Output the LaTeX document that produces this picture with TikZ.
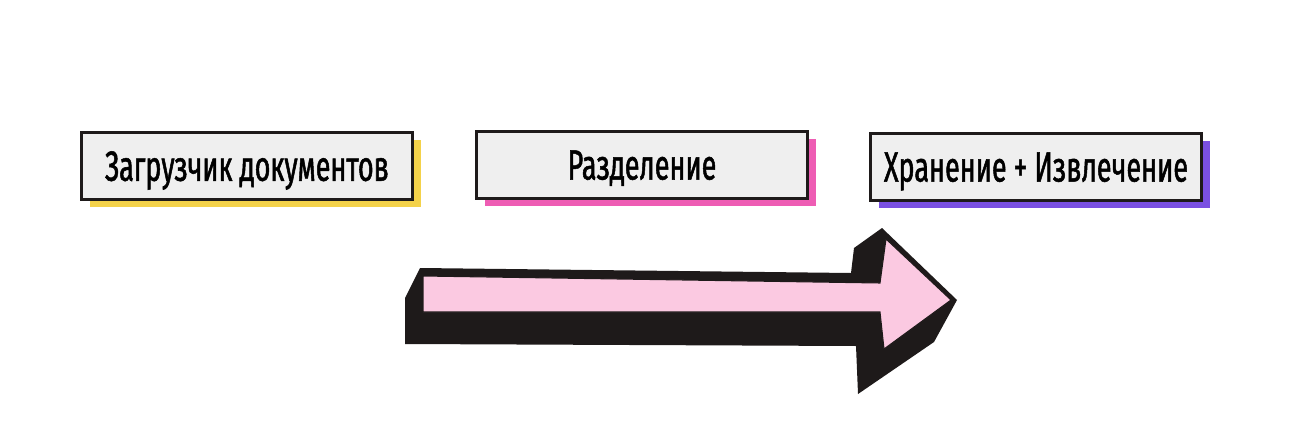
\documentclass[tikz,border=0pt]{standalone}
\usepackage{fontspec}
\setmainfont[FakeStretch=0.64,FakeBold=1.2]{Fira Sans}
\usetikzlibrary{shadows,positioning}
\definecolor{boxgray}{HTML}{EFEFEF}
\definecolor{loadcol}{HTML}{F4D24A}
\definecolor{splitcol}{HTML}{EE5DB4}
\definecolor{storecol}{HTML}{7A50E2}
\definecolor{arrpink}{HTML}{FBC9E1}
\definecolor{arrblack}{HTML}{1E1A1A}
\newcommand{\boxw}{6.62cm}
\tikzset{
    stagesty/.style={draw=arrblack,fill=boxgray,rectangle,line width=1.9pt,
                     minimum width=\boxw,minimum height=1.34cm,font=\fontsize{24}{26}\selectfont,
                     anchor=center,text depth=0pt},
    shsty/.style={general shadow={fill=#1,shadow xshift=0.17cm,shadow yshift=-0.15cm}},
}

\begin{document}
\begin{tikzpicture}[x=0.02cm,y=-0.02cm]
  \useasboundingbox (0,0) rectangle (1310,446);

  % stages
  \node[stagesty,shsty=loadcol]  (load)  at (247,166) {Загрузчик документов};
  \node[stagesty,shsty=splitcol] (split) at (642,165) {Разделение};
  \node[stagesty,shsty=storecol] (store) at (1036,167) {Хранение + Извлечение};

  % big arrow
  \fill[arrblack,line join=round] (420,268) -- (851,273) -- (854,248) -- (882,228) -- (957,300)
       -- (934,342) -- (858,394) -- (856,346) -- (405,344) -- (405,298) -- cycle;
  \draw[arrblack,fill=arrpink,line width=0.6pt] (423,276) -- (880,283) -- (886,239) -- (951,300)
       -- (884,349) -- (880,312) -- (423,312) -- cycle;
\end{tikzpicture}
\end{document}
